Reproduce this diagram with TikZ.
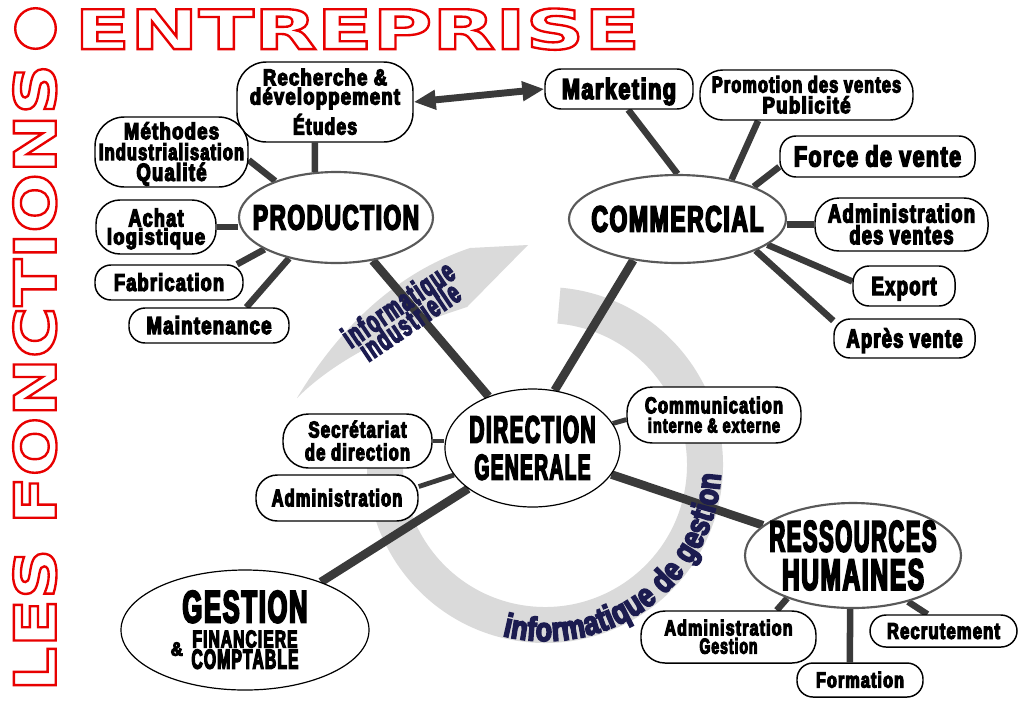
\documentclass[tikz,border=0pt]{standalone}
\usepackage{fontspec}
\usepackage{graphicx}
\usetikzlibrary{shapes.geometric,arrows.meta,decorations.text,calc}
\newfontfamily\cond{Liberation Sans Bold}[FakeStretch=0.7,FakeBold=5,LetterSpace=5]
\newfontfamily\arcfont{Liberation Sans Bold}[FakeStretch=0.8,FakeBold=5]
\newfontfamily\ttlA{DejaVu Sans}[FakeStretch=1.46]
\newfontfamily\ttlB{DejaVu Sans}[FakeStretch=1.2]
\newdimen\pxu \pxu=0.75pt
\newcommand\tw[3]{\resizebox{#1\pxu}{#2\pxu}{\cond\smash{#3}\vphantom{H}}}
\newcommand\strk[1]{\special{pdf:literal direct 1 Tr 1.8 w}#1\special{pdf:literal direct 0 Tr}}
\newcommand\ttlbox{\resizebox{565.6\pxu}{40.6\pxu}{\ttlA\bfseries\fontsize{41.8pt}{44pt}\selectfont\strk{ENTREPRISE}}}
\newcommand\lesbox{\resizebox{627.6\pxu}{42.6\pxu}{\ttlB\bfseries\fontsize{43.8pt}{46pt}\selectfont\strk{LES FONCTIONS}}}
\definecolor{lnk}{RGB}{58,58,58}
\definecolor{arcg}{RGB}{218,218,218}
\definecolor{navyc}{RGB}{28,28,80}
\definecolor{tred}{RGB}{232,0,0}
\pgfdeclarelayer{arcl}\pgfdeclarelayer{lnkl}\pgfdeclarelayer{txtl}
\pgfsetlayers{arcl,lnkl,txtl,main}
\begin{document}
\begin{tikzpicture}[x=0.75pt,y=-0.75pt,
  every node/.style={inner sep=0pt},
  sz/.style 2 args={minimum width=#1*0.75pt, minimum height=#2*0.75pt},
  bs/.style={font=\fontsize{2pt}{#1\pxu}\selectfont},
  box/.style={draw=black, line width=1.1pt, fill=white, rounded corners=12pt, align=center},
  mainell/.style={ellipse, draw=black!65, line width=1.6pt, fill=white, align=center, inner sep=-30pt},
  thinell/.style={ellipse, draw=black, line width=0.9pt, fill=white, align=center, inner sep=-30pt},
  mlk/.style={draw=lnk, line width=6.4pt},
  lk/.style={draw=lnk, line width=4.9pt},
  tlk/.style={draw=lnk, line width=3.6pt},
  arr/.style={draw=lnk, line width=5.2pt, {Triangle[length=16.5pt,width=14pt]}-{Triangle[length=16.5pt,width=14pt]}}
]
\useasboundingbox (0,0) rectangle (1023,708);
\coordinate (ac) at (545,465);

% ---------- nodes ----------
\node[box, sz={176}{80}, rounded corners=22pt, bs=19.3] (rd) at (325,102)
  {\tw{124}{15.7}{Recherche \&}\\\tw{150}{16}{développement}\\[8pt]\tw{64}{16}{Études}};
\node[box, sz={153}{70}, rounded corners=22pt, bs=20.8] (meth) at (171.5,152)
  {\tw{95}{16}{Méthodes}\\\tw{145}{16}{Industrialisation}\\\tw{70}{17}{Qualité}};
\node[box, sz={120}{54}, rounded corners=18pt, bs=18] (achat) at (156,227)
  {\tw{55}{17}{Achat}\\\tw{98}{15.5}{logistique}};
\node[box, sz={148}{35}] (fab) at (169,282.5) {\tw{110}{16.7}{Fabrication}};
\node[box, sz={160}{35}] (maint) at (209,325.5) {\tw{125}{17}{Maintenance}};
\node[mainell, sz={194}{91}] (prod) at (336,217.5) {\tw{166}{24}{PRODUCTION}};

\node[box, sz={148}{40}] (mkt) at (619,89) {\tw{114}{20}{Marketing}};
\node[box, sz={213}{50}, rounded corners=17pt, bs=20.7] (promo) at (806.5,95)
  {\tw{189}{15.7}{Promotion des ventes}\\\tw{88}{16}{Publicité}};
\node[box, sz={195}{41}] (fdv) at (877.5,156.5) {\tw{167}{20}{Force de vente}};
\node[box, sz={173}{53}, rounded corners=18pt, bs=21.7] (adv) at (901.5,224.5)
  {\tw{147}{17.7}{Administration}\\\tw{104}{18}{des ventes}};
\node[box, sz={102}{40}] (exp) at (904,286) {\tw{65}{18}{Export}};
\node[box, sz={141}{39}] (apv) at (904.5,338.5) {\tw{116}{18}{Après vente}};
\node[mainell, sz={217}{88}] (comm) at (677.5,219) {\tw{172}{25}{COMMERCIAL}};

\node[thinell, sz={175}{118}, bs=37] (dg) at (532.5,448)
  {\tw{126}{26}{DIRECTION}\\\tw{116}{24.5}{GENERALE}};
\node[box, sz={174}{56}, rounded corners=19pt, bs=19.3] (comd) at (714,415)
  {\tw{138}{15.8}{Communication}\\\tw{132}{14}{interne \& externe}};
\node[box, sz={149}{54}, rounded corners=19pt, bs=22.8] (sec) at (357.5,441)
  {\tw{98}{15.8}{Secrétariat}\\\tw{105}{16}{de direction}};
\node[box, sz={162}{46}, rounded corners=16pt] (adm) at (337,498) {\tw{130.5}{16.5}{Administration}};

\node[thinell, sz={248}{120}, bs=21.3] (gest) at (245,630)
  {\tw{125}{31}{GESTION}\\[2.8pt]\smash{\makebox[0pt][r]{\raisebox{-8.3\pxu}{\tw{12}{13.3}{\&}}\hspace{9.7\pxu}}}\tw{105}{16.7}{FINANCIERE}\\\tw{107}{19}{COMPTABLE}};

\node[mainell, sz={216}{105}, bs=38.3] (rh) at (853,555.5)
  {\tw{167}{30}{RESSOURCES}\\\tw{142}{30}{HUMAINES}};
\node[box, sz={175}{52}, rounded corners=18pt, bs=18.3] (adg) at (728.5,637)
  {\tw{128}{15}{Administration}\\\tw{58}{15}{Gestion}};
\node[box, sz={126}{34}] (form) at (860,680) {\tw{88}{15}{Formation}};
\node[box, sz={147}{32}] (rec) at (943.5,631) {\tw{113}{15.7}{Recrutement}};

% ---------- gray arrows and title (drawn first) ----------
\begin{pgfonlayer}{arcl}
\fill[white] (0,0) rectangle (1023,708);
\node[anchor=north west, text=tred] (ent) at (74.2,8.2) {\ttlbox};
\node[rotate=90, anchor=south west, text=tred] (les) at (56.8,691.8) {\lesbox};
\draw[tred, line width=1.8pt] (35.5,28.5) circle[radius=20.3];
\fill[arcg] ($(ac)+(-85:178)$) arc[start angle=-85, end angle=185, radius=178]
  -- ($(ac)+(185:142)$) arc[start angle=185, end angle=-85, radius=142] -- cycle;
\fill[arcg] (297,398) .. controls (335,335) and (390,275) .. (470,248) -- (528,245)
  -- (467,307) .. controls (420,322) and (345,350) .. cycle;
\end{pgfonlayer}

% ---------- connectors ----------
\begin{pgfonlayer}{lnkl}
\draw[mlk] (prod) -- (dg);
\draw[mlk] (comm.223) -- (dg.69);
\draw[mlk] (dg) -- (rh);
\draw[mlk] (dg) -- (gest);
\draw[lk] (meth.-6) -- (prod.149);
\draw[lk] (rd.256) -- (prod.115);
\draw[lk] (achat.east) -- (achat.east -| prod.west);
\draw[lk] (fab.15) -- (prod.204);
\draw[lk] (maint.26) -- (prod.221);
\draw[lk] (mkt.294) -- (comm.90);
\draw[lk] (promo.208) -- (comm.36);
\draw[lk] (fdv.186) -- (comm.23);
\draw[lk] (adv.west) -- (adv.west -| comm.east);
\draw[lk] (exp.175) -- (comm.344);
\draw[lk] (apv.166) -- (comm.338);
\draw[tlk] (comd.183) -- (dg.17);
\draw[tlk] (sec.east) -- (sec.east -| dg.west);
\draw[tlk] (adm.8) -- (dg.199);
\draw[lk] (adg.29) -- (rh.213);
\draw[lk] (form.120) -- (rh.267);
\draw[lk] (rec.134) -- (rh.320);
\draw[arr] (rd.east) -- (mkt.west);
\end{pgfonlayer}

% ---------- texts on the gray arrows ----------
\begin{pgfonlayer}{txtl}
\node[rotate=34, text=navyc, align=center, bs=21] (iind) at (404,313)
  {\tw{128}{21}{informatique}\\\tw{114}{21}{industrielle}};
\path[decorate, decoration={text along path, text align={fit to path},
  text={|\arcfont\fontsize{25}{26}\selectfont\color{navyc}|informatique de gestion}}]
  ($(ac)+(104:176)$) arc[start angle=104, end angle=3, radius=176];
\end{pgfonlayer}
\end{tikzpicture}
\end{document}
